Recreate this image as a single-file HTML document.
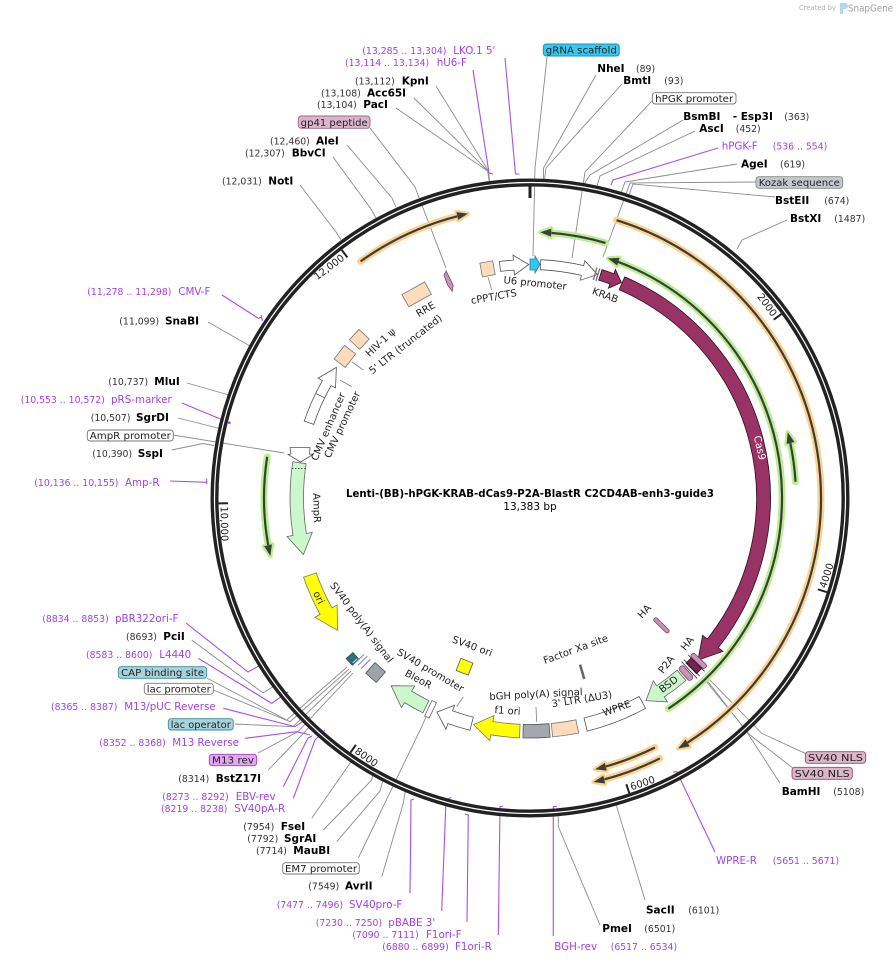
<!DOCTYPE html>
<html><head><meta charset="utf-8">
<style>
html,body{margin:0;padding:0;background:#fff;}
svg{display:block;font-family:"DejaVu Sans","Liberation Sans",Verdana,sans-serif;}
.n{font-size:10.5px;font-weight:bold;fill:#000}
.c{font-size:9.3px;fill:#333}
.p{font-size:10.3px;fill:#a03ff0}
.pc{font-size:9.3px;fill:#a03ff0}
.f{font-size:10px;fill:#222}
.bx{font-size:10px;fill:#222}
.lg{stroke:#8c8c8c;stroke-width:.9;fill:none}
.lp{stroke:#a64ff0;stroke-width:1.1;fill:none}
</style></head>
<body>
<svg width="896" height="963" viewBox="0 0 896 963" xmlns="http://www.w3.org/2000/svg">

<!-- SnapGene credit -->
<text x="799" y="10" font-size="7" fill="#b0b0b0" textLength="37" lengthAdjust="spacingAndGlyphs">Created by</text>
<path d="M840,3 h5 a3,3 0 0 1 0,6 h-2 v5 h-3 z" fill="#a8dcf4"/>
<text x="848" y="11.5" font-size="10" fill="#a0a0a0" textLength="45" lengthAdjust="spacingAndGlyphs">SnapGene</text>

<!-- ===== leader lines (gray) ===== -->
<g class="lg">
<polyline points="436,86 488.4,171 489.6,181"/>
<polyline points="414,98 488,171 489.4,181"/>
<polyline points="396,108 487.6,171 489.2,181"/>
<polyline points="370,128 415,187 446,268"/>
<polyline points="347,145 392,198 396,207"/>
<polyline points="333,157 371,209 376,218"/>
<polyline points="300,185 336,232 341,240"/>
<polyline points="547,57 535,168 533,256"/>
<polyline points="596,75 543.5,168 543.5,180"/>
<polyline points="622,84 546,168 544.5,180"/>
<polyline points="653,100 585,172 572,258"/>
<polyline points="683,120 590,175 584,184"/>
<polyline points="695,131 600,176 597,186"/>
<polyline points="737,164 625,182 621,193"/>
<polyline points="756,182 630,183 603,257"/>
<polyline points="775,197 633,184 629,195"/>
<polyline points="787,220 742,240 737,249"/>
<polyline points="208,322 250,346"/>
<polyline points="187,383 229,395"/>
<polyline points="178,418 219.7,428.5"/>
<polyline points="173,435 284,453"/>
<polyline points="171.7,450 203,443.5 214,445.5"/>
<polyline points="191.7,640 263,693 274,686"/>
<polyline points="206.7,678 286.7,720 347,667"/>
<polyline points="213.3,690 290,721.7 349,669"/>
<polyline points="235,724 293,726.7 351,671"/>
<polyline points="258,753 298,731.7 353,673"/>
<polyline points="268.3,770 305,731.7 310,726"/>
<polyline points="311.7,818.3 350,763.3 352.4,761"/>
<polyline points="323.3,830 371.7,780 373,774.5"/>
<polyline points="336.7,841.7 380,791 383,780"/>
<polyline points="358.3,858 421.7,726.7 430,708"/>
<polyline points="381.7,876.7 403.3,803.3 405.4,790.6"/>
<polyline points="600,925 558.3,826.7 558.3,814.7"/>
<polyline points="645,900 616.7,806.7 617,804"/>
<polyline points="780,783.3 746.7,731.7 706.7,680"/>
<polyline points="805,753.3 761.7,733.3 706.7,676.7"/>
<polyline points="793.3,768.3 750,735 705,680"/>
<!-- inner label connectors -->
<line x1="488" y1="277" x2="491.7" y2="290"/>
<line x1="351.7" y1="361.7" x2="363.3" y2="370"/>
<line x1="340" y1="380" x2="351.7" y2="386.7"/>
<line x1="463.3" y1="696.7" x2="456.7" y2="706.7"/>
<line x1="536" y1="707" x2="536.7" y2="722"/>
</g>

<!-- ===== primer lines (purple) ===== -->
<g class="lp">
<polyline points="505,58 515.5,174 519.5,174"/>
<polyline points="473,70 489,173 493,174"/>
<polyline points="718,148 613,180 611,185"/>
<polyline points="222,295 258.3,318.3 262,317"/>
<line x1="261" y1="315" x2="262.5" y2="321"/>
<polyline points="182,403 218,418 226,421"/>
<polyline points="170,481 206.7,482.3"/>
<line x1="206.7" y1="478.5" x2="206.7" y2="484"/>
<polyline points="186,623 248,672 266,662"/>
<polyline points="198.3,658.3 271.7,703.3 288.3,691.7"/>
<polyline points="223.3,708.3 295,726.7 310,716.7"/>
<polyline points="245,738.3 296.7,731.7 310,735"/>
<polyline points="283.3,786.7 308,738 312,736"/>
<polyline points="293.3,798.3 315,740 325,730"/>
<polyline points="410,893 411,800 414,799"/>
<polyline points="441.7,911 446,800 451,797.5"/>
<polyline points="467,922 468.3,815 465,814"/>
<polyline points="498.3,935 500,806.7 503,806"/>
<polyline points="553.3,936 553.3,806.7 557,806.5"/>
<polyline points="715,852 676.7,771.7 673,772"/>
</g>
<circle cx="229.3" cy="422.7" r="1.3" fill="#a03ff0"/>

<!-- ===== backbone ===== -->
<circle cx="530" cy="498" r="315.5" fill="none" stroke="#222" stroke-width="8"/>
<circle cx="530" cy="498" r="315.5" fill="none" stroke="#fff" stroke-width="1.2"/>

<!-- ticks -->
<g stroke="#222" stroke-width="2">
<line x1="530" y1="186" x2="530" y2="198" stroke-width="3"/>
<line x1="530" y1="186.5" x2="530" y2="196" transform="rotate(53.8 530 498)"/>
<line x1="530" y1="186.5" x2="530" y2="196" transform="rotate(107.6 530 498)"/>
<line x1="530" y1="186.5" x2="530" y2="196" transform="rotate(161.4 530 498)"/>
<line x1="530" y1="186.5" x2="530" y2="196" transform="rotate(215.2 530 498)"/>
<line x1="530" y1="186.5" x2="530" y2="196" transform="rotate(269 530 498)"/>
<line x1="530" y1="186.5" x2="530" y2="196" transform="rotate(322.8 530 498)"/>
</g>
<g font-size="10" fill="#222">
<text x="527" y="196" text-anchor="end" transform="rotate(53.8 530 498)">2000</text>
<text x="527" y="196" text-anchor="end" transform="rotate(-37.2 530 498)">12,000</text>
<text x="533" y="807.5" transform="rotate(-72.4 530 498)">4000</text>
<text x="533" y="807.5" transform="rotate(-18.6 530 498)">6000</text>
<text x="533" y="807.5" transform="rotate(35.2 530 498)">8000</text>
<text x="533" y="807.5" transform="rotate(89 530 498)">10,000</text>
</g>

<!-- ===== thin ORF arcs: glows ===== -->
<g fill="none" stroke-linecap="round">
<g stroke="#fdd28e" stroke-width="7">
<circle cx="530" cy="498" r="291" stroke-dasharray="659.8 3000" transform="rotate(-72.7 530 498)"/>
<circle cx="530" cy="498" r="291" stroke-dasharray="107.2 3000" transform="rotate(-125.6 530 498)"/>
<circle cx="530" cy="498" r="279" stroke-dasharray="52.6 3000" transform="rotate(63.4 530 498)"/>
<circle cx="530" cy="498" r="291" stroke-dasharray="59.4 3000" transform="rotate(63.5 530 498)"/>
</g>
<g stroke="#b8f090" stroke-width="7">
<circle cx="530" cy="498" r="266" stroke-dasharray="55.2 3000" transform="rotate(-85.4 530 498)"/>
<circle cx="530" cy="498" r="252" stroke-dasharray="555.1 3000" transform="rotate(-69.5 530 498)"/>
<circle cx="530" cy="498" r="266" stroke-dasharray="39 3000" transform="rotate(-11.9 530 498)"/>
<circle cx="530" cy="498" r="266" stroke-dasharray="88.7 3000" transform="rotate(169.8 530 498)"/>
</g>
</g>
<g stroke-linejoin="round" stroke-width="4">
<g fill="#fdd28e" stroke="#fdd28e">
<polygon points="530,207 519,202.5 519,211.5" transform="rotate(149.4 530 498)"/>
<polygon points="530,207 519,202.5 519,211.5" transform="rotate(-12.3 530 498)"/>
<polygon points="530,219 519,214.5 519,223.5" transform="rotate(166.5 530 498)"/>
<polygon points="530,207 519,202.5 519,211.5" transform="rotate(167.4 530 498)"/>
</g>
<g fill="#b8f090" stroke="#b8f090">
<polygon points="530,232 541,227.5 541,236.5" transform="rotate(2.2 530 498)"/>
<polygon points="530,246 541,241.5 541,250.5" transform="rotate(18 530 498)"/>
<polygon points="530,232 541,227.5 541,236.5" transform="rotate(75.7 530 498)"/>
<polygon points="530,232 541,227.5 541,236.5" transform="rotate(257.4 530 498)"/>
</g>
</g>
<!-- dark center lines -->
<g fill="none" stroke="#3c3c3c" stroke-width="2.2">
<circle cx="530" cy="498" r="291" stroke-dasharray="659.8 3000" transform="rotate(-72.7 530 498)"/>
<circle cx="530" cy="498" r="291" stroke-dasharray="107.2 3000" transform="rotate(-125.6 530 498)"/>
<circle cx="530" cy="498" r="279" stroke-dasharray="52.6 3000" transform="rotate(63.4 530 498)"/>
<circle cx="530" cy="498" r="291" stroke-dasharray="59.4 3000" transform="rotate(63.5 530 498)"/>
<circle cx="530" cy="498" r="266" stroke-dasharray="55.2 3000" transform="rotate(-85.4 530 498)"/>
<circle cx="530" cy="498" r="252" stroke-dasharray="555.1 3000" transform="rotate(-69.5 530 498)"/>
<circle cx="530" cy="498" r="266" stroke-dasharray="39 3000" transform="rotate(-11.9 530 498)"/>
<circle cx="530" cy="498" r="266" stroke-dasharray="88.7 3000" transform="rotate(169.8 530 498)"/>
</g>
<g fill="#3c3c3c">
<polygon points="530,207 519,203 519,211" transform="rotate(149.4 530 498)"/>
<polygon points="530,207 519,203 519,211" transform="rotate(-12.3 530 498)"/>
<polygon points="530,219 519,215 519,223" transform="rotate(166.5 530 498)"/>
<polygon points="530,207 519,203 519,211" transform="rotate(167.4 530 498)"/>
<polygon points="530,232 541,228 541,236" transform="rotate(2.2 530 498)"/>
<polygon points="530,246 541,242 541,250" transform="rotate(18 530 498)"/>
<polygon points="530,232 541,228 541,236" transform="rotate(75.7 530 498)"/>
<polygon points="530,232 541,228 541,236" transform="rotate(257.4 530 498)"/>
</g>

<!-- ===== features ===== -->
<g stroke="#444" stroke-width=".8">
<!-- Cas9 -->
<path d="M624.7,276.9 A240.5 240.5 0 0 1 718.2,647.7 L722.9,651.4 L698,660.2 L702.6,635.3 L707.3,639 A226.5 226.5 0 0 0 619.2,289.8 Z" fill="#993366" stroke="#2a0f1e"/>
<!-- KRAB -->
<path d="M602,269.6 A239.5 239.5 0 0 1 613.9,273.7 L615.4,269.4 L621.4,282.6 L608.4,288.2 L610,284 A228.5 228.5 0 0 0 598.7,280.1 Z" fill="#993366" stroke="#2a0f1e"/>
<!-- hPGK promoter -->
<path d="M540.8,259.7 A238.5 238.5 0 0 1 583.7,265.6 L584.8,260.7 L597.5,274.5 L580.3,280.2 L581.4,275.4 A228.5 228.5 0 0 0 540.4,269.7 Z" fill="#fff" stroke="#555"/>
<!-- U6 promoter -->
<path d="M499.3,261.5 A238.5 238.5 0 0 1 513.4,260.1 L513,255.1 L528.8,264.5 L514.4,275 L514.1,270.1 A228.5 228.5 0 0 0 500.6,271.4 Z" fill="#fff" stroke="#555"/>
<!-- gRNA scaffold -->
<path d="M530,259 L535,259 L535,256 L540,264.5 L535,273 L535,270 L530,270 Z" fill="#35c6ef" stroke="#1a7fa5"/>
<!-- cPPT/CTS -->
<rect x="523.5" y="258" width="13" height="14" fill="#fcdcbc" stroke="#777" transform="rotate(-10.5 530 498)"/>
<!-- gp41 -->
<polygon points="527.5,259 531,256 532.5,272 529.5,277 527.5,270" fill="#c795b2" stroke="#7a4466" transform="rotate(-20.5 530 498)"/>
<!-- RRE -->
<rect x="517" y="258" width="26" height="14" fill="#fcdcbc" stroke="#777" transform="rotate(-29.1 530 498)"/>
<!-- HIV-1 psi -->
<rect x="523" y="258" width="14" height="14" fill="#fcdcbc" stroke="#777" transform="rotate(-47.1 530 498)"/>
<!-- 5' LTR -->
<rect x="521.5" y="258" width="17" height="14" fill="#fcdcbc" stroke="#777" transform="rotate(-52.6 530 498)"/>
<!-- CMV enhancer/promoter -->
<path d="M304.2,421.1 A238.5 238.5 0 0 1 322.4,380.6 L318.1,378.1 L336.4,367.4 L335.5,388 L331.1,385.5 A228.5 228.5 0 0 0 313.7,424.4 Z" fill="#fff" stroke="#555"/>
<line x1="315.6" y1="393.4" x2="324.6" y2="397.8" stroke="#555"/>
<!-- AmpR promoter -->
<polygon points="290,447.5 310,447.5 309.5,454 313,454.5 300.5,462 288,454.5 291,454" fill="#fff" stroke="#555"/>
<!-- AmpR -->
<path d="M292.8,461.7 A240 240 0 0 0 293,535.5 L287,536.5 L303.4,554.5 L312.2,532.5 L306.3,533.4 A226.5 226.5 0 0 1 306.1,463.7 Z" fill="#ccf7cc" stroke="#666"/>
<line x1="292" y1="468.5" x2="306" y2="468.5" stroke="#333" stroke-dasharray="1.5 1.5"/>
<!-- ori -->
<path d="M303.5,577.3 A240 240 0 0 0 320.1,614.4 L314.8,617.3 L337.6,630.3 L337.1,604.9 L331.9,607.8 A226.5 226.5 0 0 1 316.2,572.9 Z" fill="#ffff00" stroke="#777"/>
<!-- SV40 polyA cluster -->
<rect x="525.5" y="254" width="9" height="9" fill="#2f6f7f" stroke="#1d4a55" transform="rotate(-132.2 530 498)"/>
<line x1="527" y1="256" x2="527" y2="262" stroke="#bfe" stroke-width=".8" transform="rotate(-132.2 530 498)"/>
<line x1="530" y1="258" x2="530" y2="271" stroke="#6aa0e0" stroke-width="1.2" transform="rotate(-134.2 530 498)"/>
<line x1="530" y1="258" x2="530" y2="271" stroke="#b070f0" stroke-width="1.2" transform="rotate(-135.3 530 498)"/>
<line x1="530" y1="257" x2="530" y2="270" stroke="#888" stroke-width="1" transform="rotate(-133.3 530 498)"/>
<rect x="523" y="258" width="14" height="14" fill="#9ea2a9" stroke="#555" transform="rotate(-138.5 530 498)"/>
<!-- BleoR -->
<path d="M422.9,712.8 A240 240 0 0 1 404.6,702.6 L401.5,707.7 L391.1,685.7 L414.8,686 L411.7,691.1 A226.5 226.5 0 0 0 428.9,700.7 Z" fill="#ccf7cc" stroke="#666"/>
<!-- EM7 promoter -->
<rect x="527.5" y="256" width="5" height="17" fill="#fff" stroke="#666" transform="rotate(205.2 530 498)"/>
<!-- SV40 promoter -->
<path d="M469.9,730.3 A240 240 0 0 1 447.9,723.5 L445.9,729.2 L436.9,712.1 L454.6,705.2 L452.5,710.8 A226.5 226.5 0 0 0 473.3,717.3 Z" fill="#fff" stroke="#555"/>
<!-- f1 ori -->
<path d="M519.5,737.8 A240 240 0 0 1 490.8,734.8 L489.8,740.7 L473.5,724.6 L494,715.5 L493,721.5 A226.5 226.5 0 0 0 520.1,724.3 Z" fill="#ffff00" stroke="#777"/>
<!-- bGH -->
<path d="M550.1,737.2 A240 240 0 0 1 522.9,737.9 L523.3,724.4 A226.5 226.5 0 0 0 549,723.7 Z" fill="#a3a7ae" stroke="#555"/>
<!-- 3' LTR -->
<path d="M578.7,733 A240 240 0 0 1 552.6,736.9 L551.3,723.5 A226.5 226.5 0 0 0 575.9,719.8 Z" fill="#fcdcbc" stroke="#777"/>
<!-- WPRE -->
<path d="M645.6,708.3 A240 240 0 0 1 587.2,731.1 L584,718 A226.5 226.5 0 0 0 639.1,696.5 Z" fill="#fff" stroke="#555"/>
<!-- BSD -->
<path d="M685.9,680.5 A240 240 0 0 1 664.2,697 L667.6,701.9 L646,700.6 L653.3,680.8 L656.7,685.8 A226.5 226.5 0 0 0 677.1,670.2 Z" fill="#ccf7cc" stroke="#666"/>
<!-- P2A / HA / NLS cluster -->
<rect x="527" y="255" width="6" height="17" rx="2.5" fill="#c795b2" stroke="#7a4466" transform="rotate(138.3 530 498)"/>
<rect x="526" y="256" width="8" height="15" fill="#7b2350" stroke="#40102a" transform="rotate(135.6 530 498)"/>
<rect x="527.5" y="254" width="5" height="19" rx="2" fill="#c795b2" stroke="#7a4466" transform="rotate(134 530 498)"/>
<line x1="530" y1="252" x2="530" y2="275" stroke="#222" transform="rotate(134.8 530 498)"/>
<line x1="530" y1="252" x2="530" y2="275" stroke="#222" transform="rotate(136.4 530 498)"/>
<line x1="530" y1="252" x2="530" y2="275" stroke="#222" transform="rotate(137.2 530 498)"/>
<!-- NLS marks near KRAB -->
<line x1="530" y1="258" x2="530" y2="271" stroke="#666" stroke-width="1.2" transform="rotate(16.2 530 498)"/>
<line x1="530" y1="258" x2="530" y2="271" stroke="#666" stroke-width="1.2" transform="rotate(16.9 530 498)"/>
<!-- inner ring -->
<rect x="523.5" y="310.5" width="13" height="13" fill="#ffff00" stroke="#555" transform="rotate(201.2 530 498)"/>
<rect x="528" y="305" width="4" height="20" rx="2" fill="#c795b2" stroke="#7a4466" transform="rotate(134.1 530 498)"/>
<line x1="530" y1="309" x2="530" y2="324" stroke="#666" stroke-width="2.5" transform="rotate(163.3 530 498)"/>
</g>

<!-- ===== inner labels ===== -->
<g class="f" text-anchor="middle" dominant-baseline="central">
<text x="535" y="284" transform="rotate(6 535 284)">U6 promoter</text>
<text x="605" y="296" transform="rotate(20 605 296)">KRAB</text>
<text x="494" y="297.5" transform="rotate(-10 494 297.5)">cPPT/CTS</text>
<text x="426" y="310" transform="rotate(-30 426 310)">RRE</text>
<text x="381" y="343" transform="rotate(-43 381 343)">HIV-1 ψ</text>
<text x="406" y="345" transform="rotate(-38 406 345)">5' LTR (truncated)</text>
<text x="329" y="427" transform="rotate(-67 329 427)">CMV enhancer</text>
<text x="343" y="425" transform="rotate(-65 343 425)">CMV promoter</text>
<text x="316" y="508" transform="rotate(88 316 508)">AmpR</text>
<text x="318" y="598" transform="rotate(65 318 598)">ori</text>
<text x="361" y="623" transform="rotate(53 361 623)">SV40 poly(A) signal</text>
<text x="430" y="671" transform="rotate(30.5 430 671)">SV40 promoter</text>
<text x="418" y="680" transform="rotate(28 418 680)">BleoR</text>
<text x="472" y="647" transform="rotate(20 472 647)">SV40 ori</text>
<text x="536" y="695" transform="rotate(-3 536 695)">bGH poly(A) signal</text>
<text x="507.5" y="711.5" transform="rotate(4 507.5 711.5)">f1 ori</text>
<text x="582" y="700" transform="rotate(-9 582 700)">3' LTR (ΔU3)</text>
<text x="617" y="709" transform="rotate(-20 617 709)">WPRE</text>
<text x="576" y="650" transform="rotate(-20 576 650)">Factor Xa site</text>
<text x="669" y="685" transform="rotate(-37 669 685)">BSD</text>
<text x="667" y="665" transform="rotate(-52 667 665)">P2A</text>
<text x="688" y="644" transform="rotate(-52 688 644)">HA</text>
<text x="645" y="612" transform="rotate(-48 645 612)">HA</text>
<text x="759" y="448" transform="rotate(77 759 448)" fill="#fff">Cas9</text>
</g>

<!-- title -->
<text x="530" y="497" text-anchor="middle" font-weight="bold" font-size="11" textLength="368" lengthAdjust="spacingAndGlyphs" fill="#000">Lenti-(BB)-hPGK-KRAB-dCas9-P2A-BlastR C2CD4AB-enh3-guide3</text>
<text x="530" y="510" text-anchor="middle" font-size="10.5" fill="#000">13,383 bp</text>

<!-- ===== boxed feature labels ===== -->
<g stroke-width=".9">
<rect x="298.3" y="116" width="71.7" height="12.3" rx="3" fill="#dbb5c9" stroke="#a06585"/>
<rect x="543.3" y="44" width="76" height="12" rx="3" fill="#37c8ef" stroke="#1b8fb5"/>
<rect x="652.3" y="92.7" width="83.7" height="11.3" rx="3" fill="#fff" stroke="#777"/>
<rect x="756" y="176.7" width="86.7" height="11.6" rx="3" fill="#c5c8ce" stroke="#888"/>
<rect x="87.3" y="430" width="86" height="11" rx="3" fill="#fff" stroke="#777"/>
<rect x="118.3" y="666.7" width="88.4" height="11.6" rx="3" fill="#a8d3dc" stroke="#3b8999"/>
<rect x="144.3" y="683.3" width="69" height="11" rx="3" fill="#fff" stroke="#777"/>
<rect x="168.3" y="718.7" width="65" height="11.3" rx="3" fill="#a8d3dc" stroke="#3b8999"/>
<rect x="209.3" y="754.3" width="47.4" height="11.4" rx="3" fill="#e2a8f2" stroke="#a03cc8"/>
<rect x="282.7" y="862.7" width="76.6" height="11.3" rx="3" fill="#fff" stroke="#777"/>
<rect x="805.3" y="751.7" width="60.4" height="11.6" rx="3" fill="#dbb5c9" stroke="#a0456f"/>
<rect x="792" y="767.3" width="60.3" height="12" rx="3" fill="#dbb5c9" stroke="#a0456f"/>
</g>
<g class="bx" text-anchor="middle">
<text x="334.2" y="126" textLength="67" lengthAdjust="spacingAndGlyphs">gp41 peptide</text>
<text x="581.3" y="53.7" textLength="71" lengthAdjust="spacingAndGlyphs">gRNA scaffold</text>
<text x="694.2" y="102" textLength="78" lengthAdjust="spacingAndGlyphs">hPGK promoter</text>
<text x="799.3" y="186.2" textLength="81" lengthAdjust="spacingAndGlyphs">Kozak sequence</text>
<text x="130.3" y="439.2" textLength="81" lengthAdjust="spacingAndGlyphs">AmpR promoter</text>
<text x="162.5" y="676.2" textLength="83" lengthAdjust="spacingAndGlyphs">CAP binding site</text>
<text x="178.8" y="692.5" textLength="64" lengthAdjust="spacingAndGlyphs">lac promoter</text>
<text x="200.8" y="728" textLength="60" lengthAdjust="spacingAndGlyphs">lac operator</text>
<text x="233" y="763.7" textLength="42" lengthAdjust="spacingAndGlyphs">M13 rev</text>
<text x="321" y="872" textLength="72" lengthAdjust="spacingAndGlyphs">EM7 promoter</text>
<text x="835.5" y="761.2" textLength="55" lengthAdjust="spacingAndGlyphs">SV40 NLS</text>
<text x="822.2" y="777" textLength="55" lengthAdjust="spacingAndGlyphs">SV40 NLS</text>
</g>

<!-- ===== restriction sites ===== -->
<g>
<text class="c" x="355" y="84.5">(13,112)</text><text class="n" x="401.7" y="84.5">KpnI</text>
<text class="c" x="321" y="96.5">(13,108)</text><text class="n" x="367" y="96.5">Acc65I</text>
<text class="c" x="317" y="108">(13,104)</text><text class="n" x="363.3" y="108">PacI</text>
<text class="c" x="270" y="144.5">(12,460)</text><text class="n" x="316" y="144.5">AleI</text>
<text class="c" x="245" y="156.5">(12,307)</text><text class="n" x="291.7" y="156.5">BbvCI</text>
<text class="c" x="222" y="184.5">(12,031)</text><text class="n" x="268.3" y="184.5">NotI</text>

<text class="n" x="597.3" y="72">NheI</text><text class="c" x="636" y="72">(89)</text>
<text class="n" x="623.3" y="84">BmtI</text><text class="c" x="664.3" y="84">(93)</text>
<text class="n" x="683.3" y="120">BsmBI</text><text class="n" x="732.7" y="120">- Esp3I</text><text class="c" x="784.3" y="120">(363)</text>
<text class="n" x="699.3" y="132">AscI</text><text class="c" x="735.7" y="132">(452)</text>
<text class="n" x="741" y="167.5">AgeI</text><text class="c" x="780" y="167.5">(619)</text>
<text class="n" x="775" y="204">BstEII</text><text class="c" x="824.3" y="204">(674)</text>
<text class="n" x="790" y="222">BstXI</text><text class="c" x="834.3" y="222">(1487)</text>

<text class="c" x="119.3" y="324.5">(11,099)</text><text class="n" x="165" y="324.5">SnaBI</text>
<text class="c" x="108.3" y="385">(10,737)</text><text class="n" x="154.3" y="385">MluI</text>
<text class="c" x="90.7" y="421">(10,507)</text><text class="n" x="136" y="421">SgrDI</text>
<text class="c" x="92.3" y="457">(10,390)</text><text class="n" x="137.7" y="457">SspI</text>
<text class="c" x="126" y="640">(8693)</text><text class="n" x="163.3" y="640">PciI</text>
<text class="c" x="178.3" y="782">(8314)</text><text class="n" x="215.7" y="782">BstZ17I</text>
<text class="c" x="243.3" y="830">(7954)</text><text class="n" x="280.7" y="830">FseI</text>
<text class="c" x="247.3" y="842">(7792)</text><text class="n" x="284" y="842">SgrAI</text>
<text class="c" x="256" y="854">(7714)</text><text class="n" x="293.3" y="854">MauBI</text>
<text class="c" x="308.3" y="889.5">(7549)</text><text class="n" x="345" y="889.5">AvrII</text>

<text class="n" x="646" y="913.5">SacII</text><text class="c" x="688.3" y="913.5">(6101)</text>
<text class="n" x="602.3" y="932">PmeI</text><text class="c" x="644.3" y="932">(6501)</text>
<text class="n" x="781.7" y="795">BamHI</text><text class="c" x="833.3" y="795">(5108)</text>
</g>

<!-- ===== primers ===== -->
<g>
<text class="pc" x="362.3" y="54">(13,285 .. 13,304)</text><text class="p" x="453.3" y="54">LKO.1 5'</text>
<text class="pc" x="345" y="66">(13,114 .. 13,134)</text><text class="p" x="436.7" y="66">hU6-F</text>
<text class="p" x="721.7" y="149.5">hPGK-F</text><text class="pc" x="772.7" y="149.5">(536 .. 554)</text>
<text class="pc" x="87.3" y="295">(11,278 .. 11,298)</text><text class="p" x="178.3" y="295">CMV-F</text>
<text class="pc" x="20.7" y="403">(10,553 .. 10,572)</text><text class="p" x="111" y="403">pRS-marker</text>
<text class="pc" x="34.3" y="486">(10,136 .. 10,155)</text><text class="p" x="125" y="486">Amp-R</text>
<text class="pc" x="42.3" y="622">(8834 .. 8853)</text><text class="p" x="115" y="622">pBR322ori-F</text>
<text class="pc" x="86" y="658">(8583 .. 8600)</text><text class="p" x="159.3" y="658">L4440</text>
<text class="pc" x="51" y="710">(8365 .. 8387)</text><text class="p" x="124.3" y="710">M13/pUC Reverse</text>
<text class="pc" x="99.3" y="746">(8352 .. 8368)</text><text class="p" x="172.3" y="746">M13 Reverse</text>
<text class="pc" x="162.3" y="800">(8273 .. 8292)</text><text class="p" x="235.7" y="800">EBV-rev</text>
<text class="pc" x="161" y="812">(8219 .. 8238)</text><text class="p" x="234.3" y="812">SV40pA-R</text>
<text class="pc" x="276.7" y="908">(7477 .. 7496)</text><text class="p" x="349" y="908">SV40pro-F</text>
<text class="pc" x="315.7" y="926">(7230 .. 7250)</text><text class="p" x="388.3" y="926">pBABE 3'</text>
<text class="pc" x="352.3" y="938">(7090 .. 7111)</text><text class="p" x="426" y="938">F1ori-F</text>
<text class="pc" x="382.3" y="950">(6880 .. 6899)</text><text class="p" x="455" y="950">F1ori-R</text>
<text class="p" x="554.3" y="950">BGH-rev</text><text class="pc" x="610.7" y="950">(6517 .. 6534)</text>
<text class="p" x="716" y="864">WPRE-R</text><text class="pc" x="772.7" y="864">(5651 .. 5671)</text>
</g>

</svg>
</body></html>
